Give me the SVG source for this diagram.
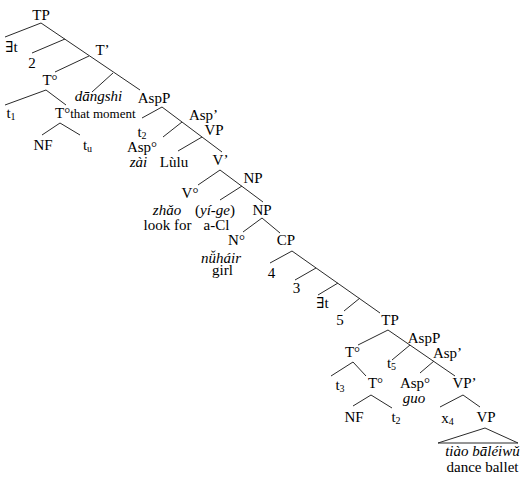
<svg xmlns="http://www.w3.org/2000/svg" width="526" height="482" viewBox="0 0 526 482">
<style>
text{font-family:"Liberation Serif","DejaVu Serif",serif;font-size:15px;fill:#000;text-anchor:middle}
.i{font-style:italic}
.s{font-size:13px}
.sub{font-size:10px}
.st{text-anchor:start}
#connectors line,#connectors polygon{stroke:#2a2a2a;stroke-width:1;fill:none}
</style>
<rect width="526" height="482" fill="#fff"/>
<g id="connectors">
<line x1="41" y1="23" x2="140" y2="90"/>
<line x1="41" y1="23" x2="5" y2="37"/>
<line x1="65" y1="39" x2="32" y2="53"/>
<line x1="89" y1="56" x2="55" y2="72"/>
<line x1="113" y1="73" x2="92" y2="92"/>
<line x1="46" y1="90" x2="5" y2="105"/>
<line x1="46" y1="90" x2="66" y2="105"/>
<line x1="60" y1="123" x2="42" y2="135"/>
<line x1="60" y1="123" x2="80" y2="135"/>
<line x1="162" y1="107" x2="142" y2="118"/>
<line x1="162" y1="107" x2="222" y2="152"/>
<line x1="182" y1="122" x2="163" y2="137"/>
<line x1="202" y1="137" x2="178" y2="151"/>
<line x1="220" y1="170" x2="198" y2="185"/>
<line x1="220" y1="170" x2="263" y2="202"/>
<line x1="242" y1="186" x2="220" y2="200"/>
<line x1="262" y1="218" x2="243" y2="232"/>
<line x1="262" y1="218" x2="280" y2="233"/>
<line x1="292" y1="251" x2="380" y2="313"/>
<line x1="292" y1="251" x2="270" y2="263"/>
<line x1="316" y1="268" x2="295" y2="280"/>
<line x1="338" y1="283" x2="318" y2="295"/>
<line x1="360" y1="298" x2="344" y2="311"/>
<line x1="388" y1="330" x2="358" y2="345"/>
<line x1="388" y1="330" x2="455" y2="376"/>
<line x1="410" y1="345" x2="392" y2="360"/>
<line x1="434" y1="361" x2="420" y2="373"/>
<line x1="353" y1="362" x2="331" y2="376"/>
<line x1="353" y1="362" x2="366" y2="376"/>
<line x1="371" y1="395" x2="353" y2="406"/>
<line x1="371" y1="395" x2="392" y2="408"/>
<line x1="463" y1="395" x2="440" y2="407"/>
<line x1="463" y1="395" x2="480" y2="407"/>
<polygon points="485,428 438,443 518,443"/>
</g>
<g id="n-TP"><text x="41" y="20">TP</text></g>
<g id="n-Et1"><text x="11.5" y="52">∃t</text></g>
<g id="n-Tbar"><text x="102.5" y="55">T’</text></g>
<g id="n-2"><text x="32" y="68">2</text></g>
<g id="n-T0a"><text x="50" y="85">T°</text></g>
<g id="n-dangshi"><text class="i" x="98.5" y="101">dāngshi</text></g>
<g id="n-AspP1"><text x="154" y="103">AspP</text></g>
<g id="n-t1"><text x="11" y="118">t<tspan class="sub" dy="2">1</tspan></text></g>
<g id="n-T0b"><text class="st" x="55" y="118">T°<tspan class="s">that moment</tspan></text></g>
<g id="n-NF1"><text x="43" y="150">NF</text></g>
<g id="n-tu"><text x="87.5" y="150">t<tspan class="sub" dy="2">u</tspan></text></g>
<g id="n-t2a"><text x="142" y="137">t<tspan class="sub" dy="2">2</tspan></text></g>
<g id="n-Aspbar1"><text x="203.5" y="120">Asp’</text></g>
<g id="n-VP1"><text x="214" y="135">VP</text></g>
<g id="n-Asp0a"><text x="142" y="152">Asp°</text></g>
<g id="n-zai"><text class="i" x="138.5" y="167">zài</text></g>
<g id="n-Lulu"><text x="174" y="167">Lùlu</text></g>
<g id="n-Vbar"><text x="220.5" y="165">V’</text></g>
<g id="n-NP1"><text x="253" y="183">NP</text></g>
<g id="n-V0"><text x="190" y="198">V°</text></g>
<g id="n-zhao"><text class="i" x="167" y="215">zhǎo</text></g>
<g id="n-yige"><text x="215" y="215">(<tspan class="i">yí-ge</tspan>)</text></g>
<g id="n-NP2"><text x="262" y="215">NP</text></g>
<g id="n-lookfor"><text x="167.5" y="230">look for</text></g>
<g id="n-aCl"><text x="216.5" y="230">a-Cl</text></g>
<g id="n-N0"><text x="236.5" y="245">N°</text></g>
<g id="n-CP"><text x="286" y="245">CP</text></g>
<g id="n-nuhair"><text class="i" x="221" y="263">nǚháir</text></g>
<g id="n-girl"><text x="222.5" y="275">girl</text></g>
<g id="n-4"><text x="271.5" y="278">4</text></g>
<g id="n-3"><text x="296.5" y="293">3</text></g>
<g id="n-Et2"><text x="322.5" y="308">∃t</text></g>
<g id="n-5"><text x="340" y="325">5</text></g>
<g id="n-TP2"><text x="390" y="325">TP</text></g>
<g id="n-AspP2"><text x="424" y="343">AspP</text></g>
<g id="n-T0c"><text x="352.5" y="357">T°</text></g>
<g id="n-Aspbar2"><text x="447.5" y="358">Asp’</text></g>
<g id="n-t5"><text x="391.5" y="368">t<tspan class="sub" dy="2">5</tspan></text></g>
<g id="n-t3"><text x="340" y="390">t<tspan class="sub" dy="2">3</tspan></text></g>
<g id="n-T0d"><text x="375.5" y="388">T°</text></g>
<g id="n-Asp0b"><text x="415" y="388">Asp°</text></g>
<g id="n-VPbar"><text x="464.5" y="388">VP’</text></g>
<g id="n-guo"><text class="i" x="414" y="403">guo</text></g>
<g id="n-NF2"><text x="354" y="422">NF</text></g>
<g id="n-t2b"><text x="396" y="422">t<tspan class="sub" dy="2">2</tspan></text></g>
<g id="n-x4"><text x="447.5" y="423">x<tspan class="sub" dy="2">4</tspan></text></g>
<g id="n-VP2"><text x="486" y="422">VP</text></g>
<g id="n-tiao"><text class="i" x="482.5" y="456">tiào bāléiwǔ</text></g>
<g id="n-dance"><text x="482.5" y="472">dance ballet</text></g>
</svg>
